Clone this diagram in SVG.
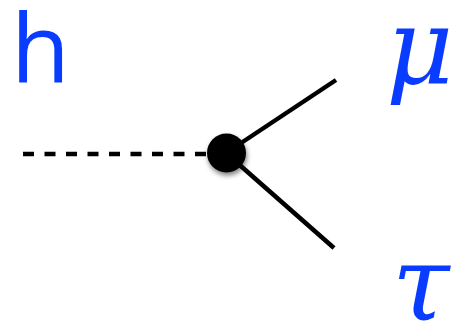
<svg xmlns="http://www.w3.org/2000/svg" width="455" height="325" viewBox="0 0 455 325">
<defs>
<style>
.lbl{fill:#0a3cff;}
.line{stroke:#000;stroke-width:4.5;fill:none;}
</style>
<filter id="sh" x="-50%" y="-50%" width="200%" height="200%">
<feGaussianBlur in="SourceAlpha" stdDeviation="2.5"/>
<feOffset dx="1" dy="3" result="b"/>
<feFlood flood-color="#000" flood-opacity="0.5"/>
<feComposite in2="b" operator="in"/>
<feMerge><feMergeNode/><feMergeNode in="SourceGraphic"/></feMerge>
</filter>
</defs>
<rect width="455" height="325" fill="#fff"/>
<g id="connectors">
<line class="line" x1="23" y1="154" x2="210" y2="154" stroke-dasharray="11 10.5" stroke-width="5"/>
<line class="line" x1="226" y1="153" x2="336" y2="80"/>
<line class="line" x1="226" y1="153" x2="334" y2="248"/>
</g>
<g id="vertex">
<circle cx="226.5" cy="153" r="19.5" fill="#000" filter="url(#sh)"/>
</g>
<g id="label-h">
<text class="lbl" x="11" y="82" font-family="Open Sans, Liberation Sans, sans-serif" font-size="96">h</text>
</g>
<g id="label-mu">
<text class="lbl" x="386" y="83" font-family="DejaVu Serif, serif" font-style="italic" font-size="104">μ</text>
</g>
<g id="label-tau">
<text class="lbl" x="392" y="320" font-family="DejaVu Serif, serif" font-style="italic" font-size="104">τ</text>
</g>
</svg>
